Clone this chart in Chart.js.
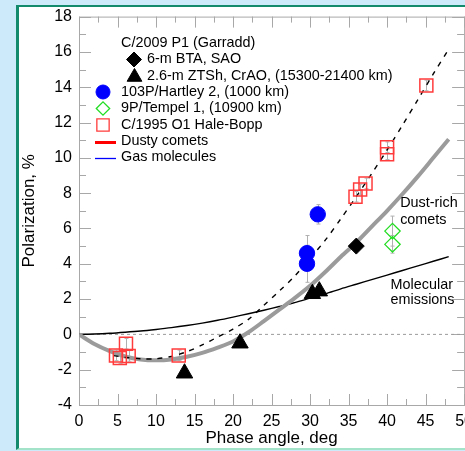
<!DOCTYPE html>
<html>
<head>
<meta charset="utf-8">
<script src="https://cdn.jsdelivr.net/npm/chart.js@4.4.0/dist/chart.umd.min.js"></script>
<style>
    html, body { margin: 0; padding: 0; }
    body { width: 465px; height: 451px; overflow: hidden; background: #cdeafa; position: relative; }
    #painel {
        position: absolute; left: 16px; top: 5px; width: 480px; height: 441px; background: #fff;
        border-left: 3px solid #138a6c; border-top: 2px solid #138a6c; border-bottom: 2px solid #a3e3c9;
    }
    #grafico { position: absolute; left: 0; top: 0; }
</style>
</head>
<body>
<div id="painel"></div>
<canvas id="grafico" width="480" height="451"></canvas>
<script>
// --- DADOS ---
// Curvas de ajuste (ângulo de fase em graus)
const angulosAjuste = [0, 2, 4, 6, 8, 10, 12, 14, 16, 18, 20, 22, 24, 26, 28, 30, 32, 34, 36, 38, 40, 42, 44, 46, 48];
const poeiraAjuste = [0, -0.55, -0.95, -1.25, -1.42, -1.47, -1.42, -1.27, -1.05, -0.75, -0.4, 0.12, 0.75, 1.4, 2.05, 2.75, 3.55, 4.4, 5.2, 6.1, 7.0, 7.95, 8.95, 10.0, 11.05];
const gasAjuste = [0, 0.02, 0.06, 0.12, 0.19, 0.28, 0.38, 0.5, 0.64, 0.8, 0.98, 1.17, 1.37, 1.58, 1.8, 2.05, 2.3, 2.58, 2.84, 3.1, 3.36, 3.62, 3.88, 4.14, 4.4];

// Ajuste tracejado do Hale-Bopp
const angulosHB = [4.5, 6, 8, 10, 12, 14, 16, 18, 20, 22, 24, 26, 28, 30, 32, 34, 36, 38, 40, 42, 44, 46, 48];
const hbAjuste = [-1.2, -1.3, -1.38, -1.38, -1.25, -0.98, -0.6, -0.15, 0.3, 0.85, 1.65, 2.45, 3.3, 4.3, 5.35, 6.55, 7.8, 9.1, 10.45, 11.85, 13.3, 14.75, 16.15];

// C/2009 P1 (Garradd)
const btaAngulos = [36];
const btaPol = [5.0];
const ztshAngulos = [13.7, 20.9, 30.3, 31.2];
const ztshPol = [-2.2, -0.5, 2.3, 2.45];

// 103P/Hartley 2
const hartleyAngulos = [29.6, 29.6, 31.0];
const hartleyPol = [4.6, 4.0, 6.8];
const hartleyErro = [1.0, 1.05, 0.55];

// 9P/Tempel 1
const tempelAngulos = [40.7, 40.7];
const tempelPol = [5.85, 5.1];
const tempelErro = [0.85, 0.5];

// C/1995 O1 Hale-Bopp
const hbAngulos = [4.8, 5.3, 6.1, 6.45, 12.95, 35.9, 36.5, 37.2, 40.0, 40.0, 45.1];
const hbPol = [-1.19, -1.34, -0.53, -1.22, -1.19, 7.8, 8.2, 8.55, 10.2, 10.6, 14.1];
const hbErro = [0.3, 0.3, 0.3, 0.3, 0.3, 0.3, 0.3, 0.3, 0.3, 0.3, 0.3];

// Linha de referência em zero
const zeroAngulos = [0, 50];
const zeroPol = [0, 0];

const xTicks = { min: 0, max: 50, passo: 5, menor: 2.5 };
const yTicks = { min: -4, max: 18, passo: 2, menor: 1 };

const FONTE = "'Liberation Sans', Arial, sans-serif";
const COR_EIXO = '#a8a8a8';

function pontos(xs, ys) {
    return xs.map((x, i) => ({ x: x, y: ys[i] }));
}

// Moldura do gráfico com marcas de escala para dentro
const molduraEixos = {
    id: 'molduraEixos',
    beforeDatasetsDraw(chart) {
        const { ctx, chartArea: a, scales: { x, y } } = chart;
        ctx.save();
        ctx.strokeStyle = COR_EIXO;
        ctx.lineWidth = 1;
        ctx.strokeRect(a.left + 0.5, a.top + 0.5, a.right - a.left, a.bottom - a.top);
        ctx.beginPath();
        for (let v = xTicks.min; v <= xTicks.max; v += xTicks.menor) {
            const px = Math.round(x.getPixelForValue(v)) + 0.5;
            const len = v % xTicks.passo === 0 ? 11 : 6;
            ctx.moveTo(px, a.bottom); ctx.lineTo(px, a.bottom - len);
            ctx.moveTo(px, a.top); ctx.lineTo(px, a.top + len);
        }
        for (let v = yTicks.min; v <= yTicks.max; v += yTicks.menor) {
            const py = Math.round(y.getPixelForValue(v)) + 0.5;
            const len = v % yTicks.passo === 0 ? 12 : 7;
            ctx.moveTo(a.left, py); ctx.lineTo(a.left + len, py);
            ctx.moveTo(a.right, py); ctx.lineTo(a.right - len, py);
        }
        ctx.stroke();
        ctx.restore();
    }
};

// Barras de erro verticais (campo "erros" no dataset)
const barrasErro = {
    id: 'barrasErro',
    beforeDatasetsDraw(chart) {
        const { ctx, scales: { y } } = chart;
        ctx.save();
        ctx.strokeStyle = '#b0b0b0';
        ctx.lineWidth = 1;
        chart.data.datasets.forEach((ds, i) => {
            if (!ds.erros) return;
            const meta = chart.getDatasetMeta(i);
            meta.data.forEach((p, j) => {
                const v = ds.data[j].y;
                const e = ds.erros[j];
                const x = Math.round(p.x) + 0.5;
                const y1 = y.getPixelForValue(v + e);
                const y2 = y.getPixelForValue(v - e);
                ctx.beginPath();
                ctx.moveTo(x, y1); ctx.lineTo(x, y2);
                ctx.moveTo(x - 2, y1); ctx.lineTo(x + 2, y1);
                ctx.moveTo(x - 2, y2); ctx.lineTo(x + 2, y2);
                ctx.stroke();
            });
        });
        ctx.restore();
    }
};

// Legenda e rótulos de texto dentro da área do gráfico
const legendaTextos = {
    id: 'legendaTextos',
    afterDraw(chart) {
        const { ctx, scales: { x, y } } = chart;
        const desenhaPonto = Chart.helpers.drawPoint;
        ctx.save();
        ctx.font = '14.4px ' + FONTE;
        ctx.fillStyle = '#000';
        ctx.textBaseline = 'middle';
        ctx.textAlign = 'left';

        const linhas = [43, 59.5, 76, 92, 108.5, 125, 141, 157.5];
        ctx.fillText('C/2009 P1 (Garradd)', 121, linhas[0]);
        ctx.fillText('6-m BTA, SAO', 147, linhas[1]);
        ctx.fillText('2.6-m ZTSh, CrAO, (15300-21400 km)', 147, linhas[2]);
        ctx.fillText('103P/Hartley 2, (1000 km)', 121, linhas[3]);
        ctx.fillText('9P/Tempel 1, (10900 km)', 121, linhas[4]);
        ctx.fillText('C/1995 O1 Hale-Bopp', 121, linhas[5]);
        ctx.fillText('Dusty comets', 121, linhas[6]);
        ctx.fillText('Gas molecules', 121, linhas[7]);

        const simbolo = (estilo, raio, fundo, borda, largura, px, py) => {
            ctx.fillStyle = fundo;
            ctx.strokeStyle = borda;
            ctx.lineWidth = largura;
            desenhaPonto(ctx, { pointStyle: estilo, radius: raio, borderWidth: largura, rotation: 0 }, px, py);
        };
        simbolo('rectRot', 7.5, '#000', '#000', 1, 134, linhas[1]);
        simbolo('triangle', 8.5, '#000', '#000', 1, 134.5, linhas[2] + 1);
        simbolo('circle', 7, '#0000ff', '#0000ff', 1, 103, linhas[3]);
        simbolo('rectRot', 6.7, 'rgba(0,0,0,0)', '#22dd22', 1.3, 103, linhas[4]);
        simbolo('rect', 8.7, 'rgba(0,0,0,0)', '#ff3b3b', 1.3, 103, linhas[5]);

        ctx.lineWidth = 3;
        ctx.strokeStyle = '#ff0000';
        ctx.beginPath(); ctx.moveTo(95, linhas[6] + 1.5); ctx.lineTo(116, linhas[6] + 1.5); ctx.stroke();
        ctx.lineWidth = 1.3;
        ctx.strokeStyle = '#0000ff';
        ctx.beginPath(); ctx.moveTo(95, linhas[7] + 1); ctx.lineTo(116, linhas[7] + 1); ctx.stroke();

        // rótulos das curvas
        ctx.fillStyle = '#000';
        ctx.fillText('Dust-rich', x.getPixelForValue(41.7), y.getPixelForValue(7.42));
        ctx.fillText('comets', x.getPixelForValue(41.7), y.getPixelForValue(6.5));
        ctx.fillText('Molecular', x.getPixelForValue(40.45), y.getPixelForValue(2.82));
        ctx.fillText('emissions', x.getPixelForValue(40.45), y.getPixelForValue(1.92));
        ctx.restore();
    }
};

Chart.defaults.font.family = FONTE;
Chart.defaults.color = '#000';

const ctx = document.getElementById('grafico');
new Chart(ctx, {
    type: 'scatter',
    data: {
        datasets: [
            {
                label: 'zero', data: pontos(zeroAngulos, zeroPol), showLine: true, order: 20,
                borderColor: '#9a9a9a', borderWidth: 1, borderDash: [3, 3], pointRadius: 0
            },
            {
                label: 'Molecular emissions', data: pontos(angulosAjuste, gasAjuste), showLine: true, order: 15,
                borderColor: '#000', borderWidth: 1.4, pointRadius: 0, tension: 0.3
            },
            {
                label: 'Dust-rich comets', data: pontos(angulosAjuste, poeiraAjuste), showLine: true, order: 14,
                borderColor: '#9b9b9b', borderWidth: 4, pointRadius: 0, tension: 0.3
            },
            {
                label: 'Hale-Bopp fit', data: pontos(angulosHB, hbAjuste), showLine: true, order: 13,
                borderColor: '#000', borderWidth: 1.4, borderDash: [5, 6], pointRadius: 0, tension: 0.3
            },
            {
                label: 'C/1995 O1 Hale-Bopp', data: pontos(hbAngulos, hbPol), erros: hbErro, order: 5,
                pointStyle: 'rect', pointRadius: 9.2, backgroundColor: 'rgba(0,0,0,0)',
                borderColor: '#ff3b3b', borderWidth: 1.5
            },
            {
                label: '9P/Tempel 1', data: pontos(tempelAngulos, tempelPol), erros: tempelErro, order: 4,
                pointStyle: 'rectRot', pointRadius: 7.7, backgroundColor: 'rgba(0,0,0,0)',
                borderColor: '#22dd22', borderWidth: 1.3
            },
            {
                label: '103P/Hartley 2', data: pontos(hartleyAngulos, hartleyPol), erros: hartleyErro, order: 3,
                pointStyle: 'circle', pointRadius: 7.7, backgroundColor: '#0000ff', borderColor: '#0000ff', borderWidth: 1
            },
            {
                label: '2.6-m ZTSh', data: pontos(ztshAngulos, ztshPol), order: 2,
                pointStyle: 'triangle', pointRadius: 9.5, backgroundColor: '#000', borderColor: '#000', borderWidth: 1
            },
            {
                label: '6-m BTA', data: pontos(btaAngulos, btaPol), order: 1,
                pointStyle: 'rectRot', pointRadius: 8, backgroundColor: '#000', borderColor: '#000', borderWidth: 1
            }
        ]
    },
    options: {
        responsive: false,
        devicePixelRatio: 1,
        animation: false,
        events: [],
        layout: { padding: { left: 0, right: 11, top: 16, bottom: 0 } },
        plugins: { legend: { display: false }, tooltip: { enabled: false } },
        scales: {
            x: {
                type: 'linear', min: xTicks.min, max: xTicks.max,
                grid: { display: false, drawTicks: false },
                border: { display: false },
                ticks: { stepSize: xTicks.passo, autoSkip: false, maxRotation: 0, padding: 7, font: { size: 16 } },
                title: { display: true, text: 'Phase angle, deg', font: { size: 17 }, padding: { top: 0, bottom: 2 } },
                afterFit: s => { s.height = 46; }
            },
            y: {
                type: 'linear', min: yTicks.min, max: yTicks.max,
                grid: { display: false, drawTicks: false },
                border: { display: false },
                ticks: { stepSize: yTicks.passo, autoSkip: false, padding: 7, font: { size: 16 } },
                title: { display: true, text: 'Polarization, %', font: { size: 17 }, padding: { top: 19, bottom: 0 } },
                afterFit: s => { s.width = 79; }
            }
        }
    },
    plugins: [molduraEixos, barrasErro, legendaTextos]
});
</script>
</body>
</html>
